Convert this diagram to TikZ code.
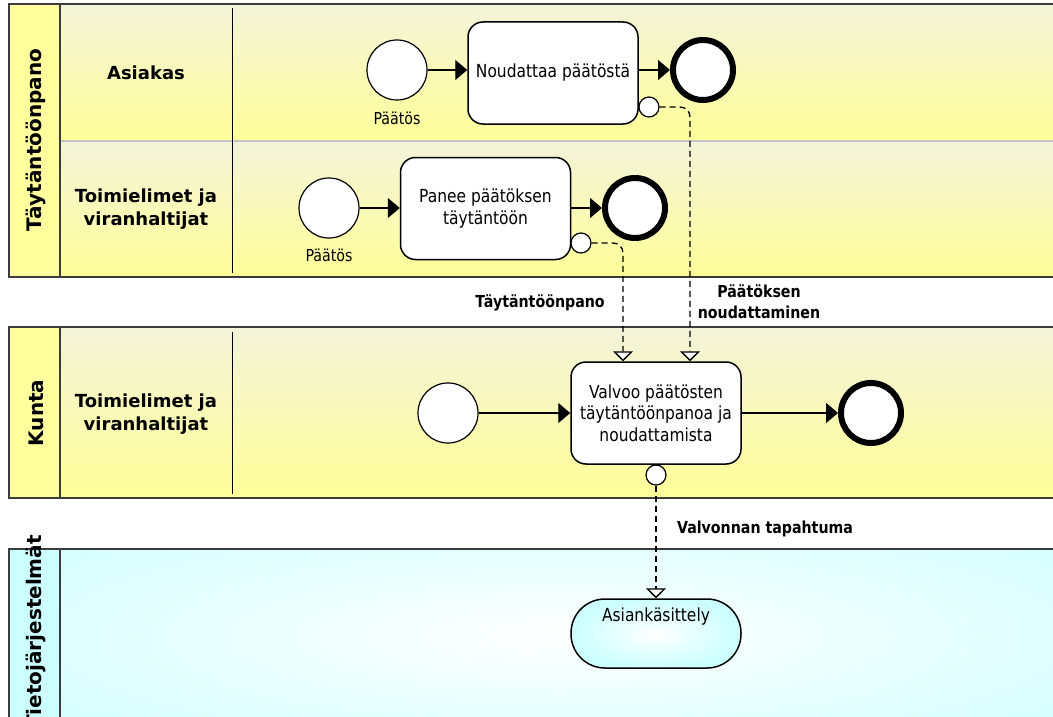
\documentclass[tikz,border=0pt]{standalone}
\usepackage{fontspec}
\setmainfont{DejaVu Sans}
\newfontfamily\narrowsans{DejaVu Sans}[FakeStretch=0.86]
\usetikzlibrary{arrows.meta,calc}

\definecolor{poolyel}{HTML}{FFFF9E}
\definecolor{lanetop}{HTML}{F3F3DA}
\definecolor{lanemid}{HTML}{FAFAC0}
\definecolor{lanebot}{HTML}{FFFF98}
\definecolor{cyanbg}{HTML}{CCFFFF}
\definecolor{poolline}{HTML}{3C3C3C}
\definecolor{lanesep}{HTML}{C4C4C4}

\begin{document}
\begin{tikzpicture}[x=1pt,y=-1pt,
  every node/.style={font=\narrowsans\fontsize{18}{21.5}\selectfont},
  startev/.style={circle, draw=black, line width=1.2pt, fill=white, minimum size=60pt, inner sep=0pt},
  endev/.style={circle, draw=black, line width=6pt, fill=white, minimum size=60pt, inner sep=0pt},
  bev/.style={circle, draw=black, line width=1.2pt, fill=white, minimum size=20pt, inner sep=0pt},
  task/.style={draw=black, line width=1.5pt, rounded corners=15pt, fill=white,
    minimum width=170pt, minimum height=102pt, align=center, inner sep=2pt},
  seq/.style={line width=1.4pt, -{Triangle[length=12pt,width=20pt]}},
  msg/.style={line width=1.3pt, dash pattern=on 6pt off 4pt, rounded corners=10pt,
    -{Triangle[length=10pt,width=20pt,fill=white]}},
  evlbl/.style={font=\narrowsans\fontsize{16.5}{18}\selectfont},
  lanelbl/.style={font=\bfseries\fontsize{18}{23}\selectfont, align=center},
  poollbl/.style={font=\bfseries\fontsize{20}{22}\selectfont, rotate=90},
  flowlbl/.style={font=\narrowsans\bfseries\fontsize{16.5}{21}\selectfont, align=center},
  poolborder/.style={draw=poolline, line width=1.5pt}]

\useasboundingbox (0,0) rectangle (1053,717);
\clip (0,0) rectangle (1053,717);

% ---------- pool: Täytäntöönpano ----------
\shade[top color=lanetop, middle color=lanemid, bottom color=lanebot] (60,4) rectangle (1070,141);
\shade[top color=lanetop, middle color=lanemid, bottom color=lanebot] (60,141) rectangle (1070,277);
\fill[poolyel] (9,4) rectangle (60,277);
\draw[lanesep, line width=1.5pt] (60,141) -- (1070,141);
\draw[black, line width=1pt] (232,8) -- (232,273);
\draw[poolborder] (1070,4) -- (9,4) -- (9,277) -- (1070,277);
\draw[poolborder] (60,4) -- (60,277);
\node[poollbl] (pool1) at (36,140) {Täytäntöönpano};
\node[lanelbl] (lane11) at (146,73) {Asiakas};
\node[lanelbl] (lane12) at (146,209) {Toimielimet ja\\viranhaltijat};

% ---------- pool: Kunta ----------
\shade[top color=lanetop, middle color=lanemid, bottom color=lanebot] (60,327) rectangle (1070,498);
\fill[poolyel] (9,327) rectangle (60,498);
\draw[black, line width=1pt] (232,332) -- (232,494);
\draw[poolborder] (1070,327) -- (9,327) -- (9,498) -- (1070,498);
\draw[poolborder] (60,327) -- (60,498);
\node[poollbl] (pool2) at (36,413) {Kunta};
\node[lanelbl] (lane21) at (146,414) {Toimielimet ja\\viranhaltijat};

% ---------- pool: Tietojärjestelmät ----------
\begin{scope}
  \clip (60,549) rectangle (1070,740);
  \fill[cyanbg] (60,549) rectangle (1070,740);
  \shade[inner color=white, outer color=cyanbg] (560,636) ellipse (820 and 170);
\end{scope}
\fill[cyanbg] (9,549) rectangle (60,740);
\draw[poolborder] (1070,549) -- (9,549) -- (9,740);
\draw[poolborder] (60,549) -- (60,740);
\node[poollbl] (pool3) at (36,632) {Tietojärjestelmät};

% ---------- Asiakas lane ----------
\node[startev] (s1) at (397,70) {};
\node[evlbl] (p1) at (397,118) {Päätös};
\node[task] (t1) at (553,73) {Noudattaa päätöstä};
\node[endev] (e1) at (703,70) {};
\node[bev] (b1) at (649,107) {};
\draw[seq] (s1.east) -- (s1.east -| t1.west);
\draw[seq] (t1.east |- e1.west) -- (e1.west);

% ---------- Toimielimet lane (implementation) ----------
\node[startev] (s2) at (329,208) {};
\node[evlbl] (p2) at (329,255) {Päätös};
\node[task] (t2) at (485.5,208.5) {Panee päätöksen\\täytäntöön};
\node[endev] (e2) at (635,208) {};
\node[bev] (b2) at (581,243) {};
\draw[seq] (s2.east) -- (s2.east -| t2.west);
\draw[seq] (t2.east |- e2.west) -- (e2.west);

% ---------- Kunta lane ----------
\node[startev] (s3) at (448,413) {};
\node[task] (t3) at (656,413) {Valvoo päätösten\\täytäntöönpanoa ja\\noudattamista};
\node[endev] (e3) at (871,413) {};
\node[bev] (b3) at (656,475) {};
\draw[seq] (s3.east) -- (s3.east -| t3.west);
\draw[seq] (t3.east |- e3.west) -- (e3.west);

% ---------- information system ----------
\node[draw=black, line width=1.5pt, rounded corners=34pt, inner color=white, outer color=cyanbg,
  minimum width=170pt, minimum height=69pt, inner sep=0pt,
  label={[anchor=north, yshift=-6pt]north:Asiankäsittely}] (t4) at (656,633.5) {};

% ---------- message flows ----------
\coordinate (m1) at ($(t3.north)+(34,0)$);
\coordinate (m2) at ($(t3.north)+(-33,0)$);
\draw[msg] (b1.east) -| (m1);
\draw[msg] (b2.east) -| (m2);
\draw[msg] (b3.south) -- (t4.north);

\node[flowlbl] (f1) at (540,303) {Täytäntöönpano};
\node[flowlbl] (f2) at (759,302) {Päätöksen\\noudattaminen};
\node[flowlbl] (f3) at (765,529) {Valvonnan tapahtuma};

\end{tikzpicture}
\end{document}
